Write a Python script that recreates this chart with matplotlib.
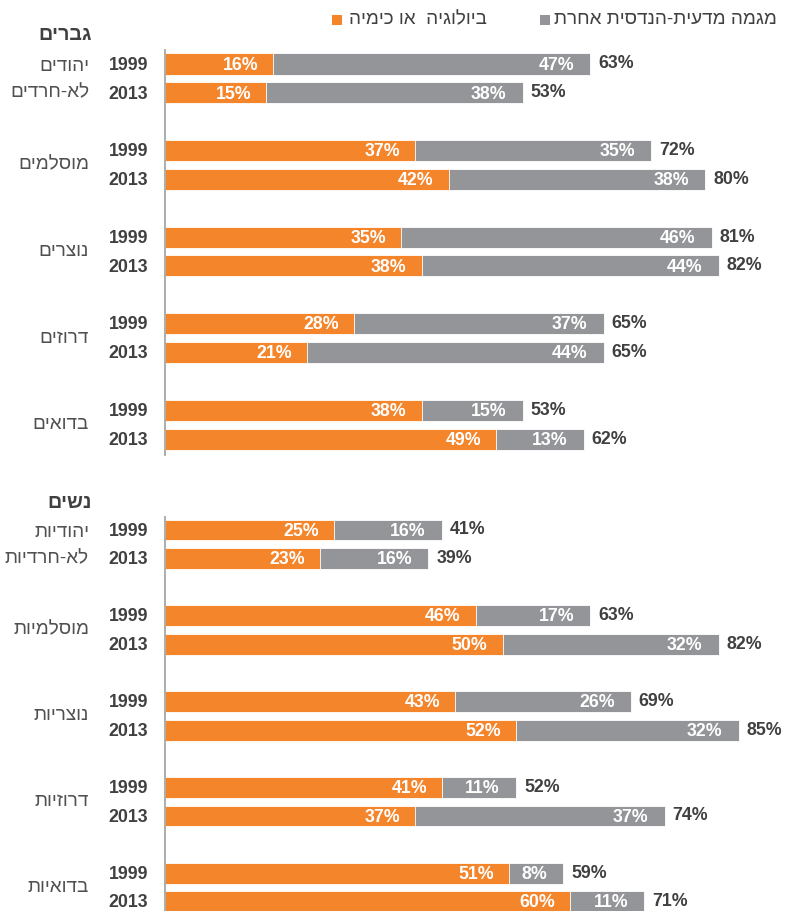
import matplotlib
matplotlib.use("Agg")
import matplotlib.pyplot as plt
import matplotlib.transforms as mtransforms
from matplotlib.patches import Rectangle

plt.rcParams['font.family'] = ['Liberation Sans', 'DejaVu Sans']

ORANGE = '#F4852B'
GRAY = '#939598'
DARK = '#404040'

# data: share of students (%) by track
years = ['1999', '2013']
men_groups = [['יהודים', 'לא-חרדים'], ['מוסלמים'], ['נוצרים'], ['דרוזים'], ['בדואים']]
women_groups = [['יהודיות', 'לא-חרדיות'], ['מוסלמיות'], ['נוצריות'], ['דרוזיות'], ['בדואיות']]

# order: group1 1999, group1 2013, group2 1999, ...
men_bio = [16, 15, 37, 42, 35, 38, 28, 21, 38, 49]
men_other = [47, 38, 35, 38, 46, 44, 37, 44, 15, 13]
men_total = [63, 53, 72, 80, 81, 82, 65, 65, 53, 62]

women_bio = [25, 23, 46, 50, 43, 52, 41, 37, 51, 60]
women_other = [16, 16, 17, 32, 26, 32, 11, 37, 8, 11]
women_total = [41, 39, 63, 82, 69, 85, 52, 74, 59, 71]

legend_bio = 'ביולוגיה  או כימיה'
legend_other = 'מגמה מדעית-הנדסית אחרת'


def heb(s):
    # matplotlib has no bidi support, so feed the visual order
    return s[::-1]


W, H = 785, 911
fig = plt.figure(figsize=(W / 100, H / 100), dpi=100)
fig.set_facecolor('white')

PX = 6.75      # pixels per percent
X0 = 165
FS = 12.8      # numbers
FH = 13.6      # hebrew labels
DY = 0.04      # text sits a bit below bar centre


def make_panel(top_px, bot_px, first_row_px, U, title, title_px, groups, bio, other, total):
    ax = fig.add_axes([X0 / W, 1 - bot_px / H, (W - X0) / W, (bot_px - top_px) / H])
    ax.set_xlim(0, (W - X0) / PX)
    ax.set_ylim((bot_px - first_row_px) / U, (top_px - first_row_px) / U)

    rows = []
    for g in range(len(groups)):
        rows += [3 * g, 3 * g + 1]

    ax.barh(rows, total, height=0.73, color=GRAY, edgecolor='white', linewidth=0.6)
    ax.barh(rows, bio, height=0.73, color=ORANGE, edgecolor='white', linewidth=0.6)

    for i, y in enumerate(rows):
        ax.text(bio[i] - 2.2, y + DY, f'{bio[i]}%', ha='right', va='center',
                color='white', fontsize=FS, fontweight='bold')
        ax.text(total[i] - 2.4, y + DY, f'{other[i]}%', ha='right', va='center',
                color='white', fontsize=FS, fontweight='bold')
        ax.text(total[i] + 1.2, y, f'{total[i]}%', ha='left', va='center',
                color=DARK, fontsize=FS, fontweight='bold')

    tr = mtransforms.blended_transform_factory(fig.transFigure, ax.transData)
    for i, y in enumerate(rows):
        ax.text(148 / W, y + DY, years[i % 2], transform=tr, ha='right', va='center',
                color=DARK, fontsize=FS, fontweight='bold')
    for g, names in enumerate(groups):
        if len(names) == 2:
            ax.text(89 / W, 3 * g + 0.1, heb(names[0]), transform=tr, ha='right',
                    va='center', color='#505050', fontsize=FH)
            ax.text(89 / W, 3 * g + 1.0, heb(names[1]), transform=tr, ha='right',
                    va='center', color='#505050', fontsize=FH)
        else:
            ax.text(89 / W, 3 * g + 0.5, heb(names[0]), transform=tr, ha='right',
                    va='center', color='#505050', fontsize=FH)

    fig.text(92 / W, 1 - title_px / H, heb(title), ha='right', va='center',
             color=DARK, fontsize=14.2, fontweight='bold')

    for s in ['top', 'right', 'bottom']:
        ax.spines[s].set_visible(False)
    ax.spines['left'].set_color('#A6A6A6')
    ax.spines['left'].set_linewidth(1.3)
    ax.set_xticks([])
    ax.set_yticks([])
    ax.patch.set_alpha(0)
    return ax


make_panel(50, 455, 64, 28.85, 'גברים', 34, men_groups, men_bio, men_other, men_total)
make_panel(517, 911, 530, 28.6, 'נשים', 503, women_groups, women_bio, women_other, women_total)

# legend across the top
fig.add_artist(Rectangle((332 / W, 1 - 25 / H), 10 / W, 10 / H, transform=fig.transFigure,
                         facecolor=ORANGE, edgecolor='none'))
fig.text(349 / W, 1 - 20 / H, heb(legend_bio), ha='left', va='center',
         color=DARK, fontsize=13.6)
fig.add_artist(Rectangle((540 / W, 1 - 25 / H), 10 / W, 10 / H, transform=fig.transFigure,
                         facecolor=GRAY, edgecolor='none'))
fig.text(554 / W, 1 - 20 / H, heb(legend_other), ha='left', va='center',
         color=DARK, fontsize=13.6)

fig.savefig('out.png', dpi=100, facecolor=fig.get_facecolor())
